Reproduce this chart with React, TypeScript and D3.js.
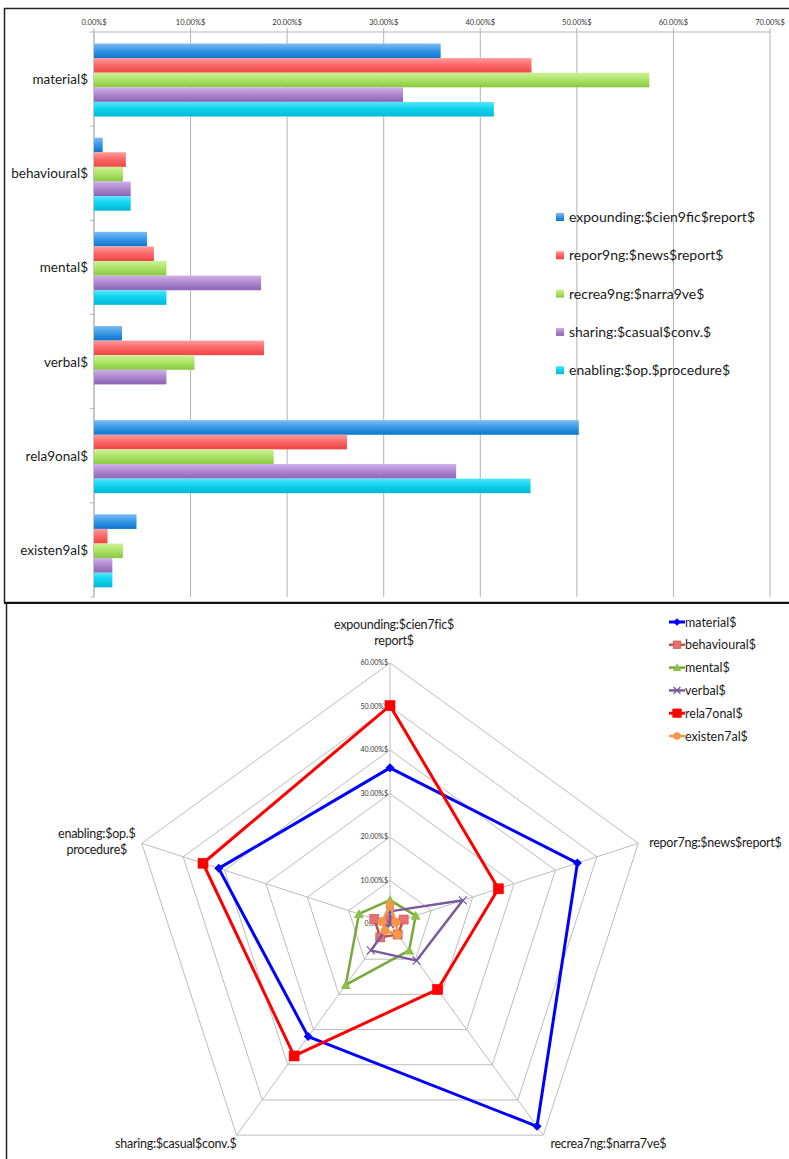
import React from 'react';
import * as d3 from 'd3';

// ---------- DATA ----------
const categories = ['material$', 'behavioural$', 'mental$', 'verbal$', 'rela9onal$', 'existen9al$'];
const barSeriesNames = [
  'expounding:$cien9fic$report$',
  'repor9ng:$news$report$',
  'recrea9ng:$narra9ve$',
  'sharing:$casual$conv.$',
  'enabling:$op.$procedure$',
];
// percentages per category (same order as categories)
const expounding = [35.9, 0.9, 5.5, 2.9, 50.2, 4.4];
const reporting = [45.3, 3.3, 6.2, 17.6, 26.2, 1.4];
const recreating = [57.5, 3.0, 7.5, 10.4, 18.6, 3.0];
const sharing = [32.0, 3.8, 17.3, 7.5, 37.5, 1.9];
const enabling = [41.4, 3.8, 7.5, 0, 45.2, 1.9];
const barSeries = [expounding, reporting, recreating, sharing, enabling];
const barTicks = [0, 10, 20, 30, 40, 50, 60, 70];

const radarAxisLabels = [
  ['expounding:$cien7fic$', 'report$'],
  ['repor7ng:$news$report$'],
  ['recrea7ng:$narra7ve$'],
  ['sharing:$casual$conv.$'],
  ['enabling:$op.$', 'procedure$'],
];
const radarSeriesNames = ['material$', 'behavioural$', 'mental$', 'verbal$', 'rela7onal$', 'existen7al$'];
const radarTicks = [0, 10, 20, 30, 40, 50, 60];

// ---------- STYLE ----------
const FONT = 'Lato, "Open Sans", sans-serif';
const barColors = [
  { top: '#7cbcf4', mid: '#3c9ae6', bot: '#0a76d0' },
  { top: '#ff9c9c', mid: '#fb6a6a', bot: '#ee4444' },
  { top: '#ccf296', mid: '#aee46a', bot: '#88c83e' },
  { top: '#d0aeea', mid: '#b08ad0', bot: '#8e62b4' },
  { top: '#56e6fa', mid: '#10d4ee', bot: '#00b8d6' },
];
const radarStyles = [
  { color: '#0000ff', width: 3, marker: 'diamond', size: 4.5, fill: '#0000ff' },
  { color: '#c0504d', width: 2.5, marker: 'square', size: 4.5, fill: '#e87070' },
  { color: '#77a83a', width: 2.5, marker: 'triangle', size: 5, fill: '#8cc04a' },
  { color: '#7a5a9e', width: 2.5, marker: 'x', size: 4, fill: '#7a5a9e' },
  { color: '#ff0000', width: 3, marker: 'square', size: 5, fill: '#ff0000' },
  { color: '#f79646', width: 2.5, marker: 'circle', size: 4.5, fill: '#f79646' },
];

function Marker({ type, x, y, s, color, fill }: any) {
  if (type === 'diamond')
    return <path d={`M${x},${y - s}L${x + s},${y}L${x},${y + s}L${x - s},${y}Z`} fill={fill} />;
  if (type === 'square')
    return <rect x={x - s} y={y - s} width={2 * s} height={2 * s} fill={fill} stroke={color} strokeWidth={0.6} />;
  if (type === 'triangle')
    return <path d={`M${x},${y - s}L${x + s},${y + s * 0.8}L${x - s},${y + s * 0.8}Z`} fill={fill} />;
  if (type === 'x')
    return (
      <path d={`M${x - s},${y - s}L${x + s},${y + s}M${x - s},${y + s}L${x + s},${y - s}`} stroke={color} strokeWidth={1.3} />
    );
  return <circle cx={x} cy={y} r={s} fill={fill} />;
}

export default function App() {
  // ---- Bar chart scales ----
  const x = d3.scaleLinear().domain([0, 70]).range([94, 770]);
  const y = d3.scaleBand().domain(categories).range([32, 597]);
  const inner = d3.scaleBand().domain(barSeriesNames).range([11.5, 84.5]);

  // ---- Radar scales ----
  const cx = 390;
  const cy = 924;
  const r = d3.scaleLinear().domain([0, 60]).range([0, 261]);
  const n = radarAxisLabels.length;
  const angle = (i: number) => (i * 2 * Math.PI) / n;
  const radarValues = categories.map((_, ci) => barSeries.map((s) => s[ci]));
  const line = d3
    .lineRadial<number>()
    .angle((_, i) => angle(i))
    .radius((d) => r(d))
    .curve(d3.curveLinearClosed);

  const vertex = (i: number, v: number) => {
    const [px, py] = d3.pointRadial(angle(i), r(v));
    return [cx + px, cy + py];
  };

  const labelOffsets = [
    { dx: 4, dy: -34, anchor: 'middle' },
    { dx: 11, dy: 4, anchor: 'start' },
    { dx: 7, dy: 13, anchor: 'start' },
    { dx: 0, dy: 13, anchor: 'end' },
    { dx: -45, dy: -5, anchor: 'middle' },
  ];

  return (
    <svg
      width={789}
      height={1159}
      style={{ position: 'absolute', left: 0, top: 0, background: '#fff' }}
      fontFamily={FONT}
    >
      <defs>
        {barColors.map((c, i) => (
          <linearGradient key={i} id={`bg${i}`} x1="0" y1="0" x2="0" y2="1">
            <stop offset="0%" stopColor={c.top} />
            <stop offset="45%" stopColor={c.mid} />
            <stop offset="100%" stopColor={c.bot} />
          </linearGradient>
        ))}
      </defs>

      {/* frames */}
      <rect x={4.5} y={8.5} width={800} height={594} fill="none" stroke="#222" strokeWidth={1.5} />
      <line x1={4} x2={789} y1={603} y2={603} stroke="#111" strokeWidth={2} />
      <line x1={6.5} x2={6.5} y1={603} y2={1159} stroke="#222" strokeWidth={1.5} />

      {/* ---------- BAR CHART ---------- */}
      {barTicks.map((t) => (
        <g key={t}>
          <line x1={x(t)} x2={x(t)} y1={28} y2={597} stroke="#b4b4b4" strokeWidth={1} />
          <text x={x(t)} y={25} fontSize={7.5} textAnchor="middle" fill="#333">
            {`${t.toFixed(2)}%$`}
          </text>
        </g>
      ))}
      <line x1={x(0)} x2={x(70)} y1={32} y2={32} stroke="#b4b4b4" />
      <line x1={x(0)} x2={x(0)} y1={32} y2={597} stroke="#b4b4b4" />
      {[...categories.map((c) => y(c) as number), 597].map((yy, i) => (
        <line key={i} x1={x(0) - 4} x2={x(0)} y1={yy} y2={yy} stroke="#b4b4b4" />
      ))}

      {categories.map((c, ci) => (
        <g key={c}>
          <text
            x={88}
            y={(y(c) as number) + y.bandwidth() / 2 + 5}
            fontSize={13.5}
            textAnchor="end"
            fill="#1a1a1a"
          >
            {c}
          </text>
          {barSeries.map((s, si) =>
            s[ci] > 0 ? (
              <rect
                key={si}
                x={x(0)}
                y={(y(c) as number) + (inner(barSeriesNames[si]) as number)}
                width={x(s[ci]) - x(0)}
                height={inner.bandwidth()}
                fill={`url(#bg${si})`}
              />
            ) : null
          )}
        </g>
      ))}

      {/* bar legend */}
      {barSeriesNames.map((name, i) => (
        <g key={name} transform={`translate(556, ${213 + i * 38.3})`}>
          <rect x={0} y={0} width={8} height={8} fill={`url(#bg${i})`} />
          <text x={13} y={9} fontSize={14} fill="#1a1a1a">
            {name}
          </text>
        </g>
      ))}

      {/* ---------- RADAR CHART ---------- */}
      {radarTicks.slice(1).map((t) => (
        <path
          key={t}
          d={
            d3
              .lineRadial<number>()
              .angle((_, i) => angle(i))
              .radius(() => r(t))
              .curve(d3.curveLinearClosed)(d3.range(n)) as string
          }
          transform={`translate(${cx},${cy})`}
          fill="none"
          stroke="#bcbcbc"
          strokeWidth={1}
        />
      ))}
      {d3.range(n).map((i) => {
        const [vx, vy] = vertex(i, 60);
        return <line key={i} x1={cx} y1={cy} x2={vx} y2={vy} stroke="#bcbcbc" strokeWidth={1} />;
      })}
      {radarTicks.map((t) => (
        <text key={t} x={cx - 2} y={cy - r(t) + 2} fontSize={7} textAnchor="end" fill="#333">
          {`${t.toFixed(2)}%$`}
        </text>
      ))}

      {radarAxisLabels.map((lines, i) => {
        const [vx, vy] = vertex(i, 60);
        const o = labelOffsets[i];
        return (
          <text
            key={i}
            x={vx + o.dx}
            y={vy + o.dy}
            fontSize={12.5}
            letterSpacing={-0.25}
            textAnchor={o.anchor as any}
            fill="#1a1a1a"
          >
            {lines.map((l, li) => (
              <tspan key={li} x={vx + o.dx} dy={li === 0 ? 0 : 16}>
                {l}
              </tspan>
            ))}
          </text>
        );
      })}

      {radarValues.map((vals, si) => {
        const st = radarStyles[si];
        return (
          <g key={si}>
            <path
              d={line(vals) as string}
              transform={`translate(${cx},${cy})`}
              fill="none"
              stroke={st.color}
              strokeWidth={st.width}
              strokeLinejoin="round"
            />
            {vals.map((v, i) => {
              const [px, py] = vertex(i, v);
              return <Marker key={i} type={st.marker} x={px} y={py} s={st.size} color={st.color} fill={st.fill} />;
            })}
          </g>
        );
      })}

      {/* radar legend */}
      {radarSeriesNames.map((name, i) => {
        const st = radarStyles[i];
        const ly = 622 + i * 22.8;
        return (
          <g key={name}>
            <line x1={669} x2={685} y1={ly} y2={ly} stroke={st.color} strokeWidth={st.width} />
            <Marker type={st.marker} x={677} y={ly} s={st.size * 0.85} color={st.color} fill={st.fill} />
            <text x={685} y={ly + 4.5} fontSize={12.5} fill="#1a1a1a">
              {name}
            </text>
          </g>
        );
      })}
    </svg>
  );
}
